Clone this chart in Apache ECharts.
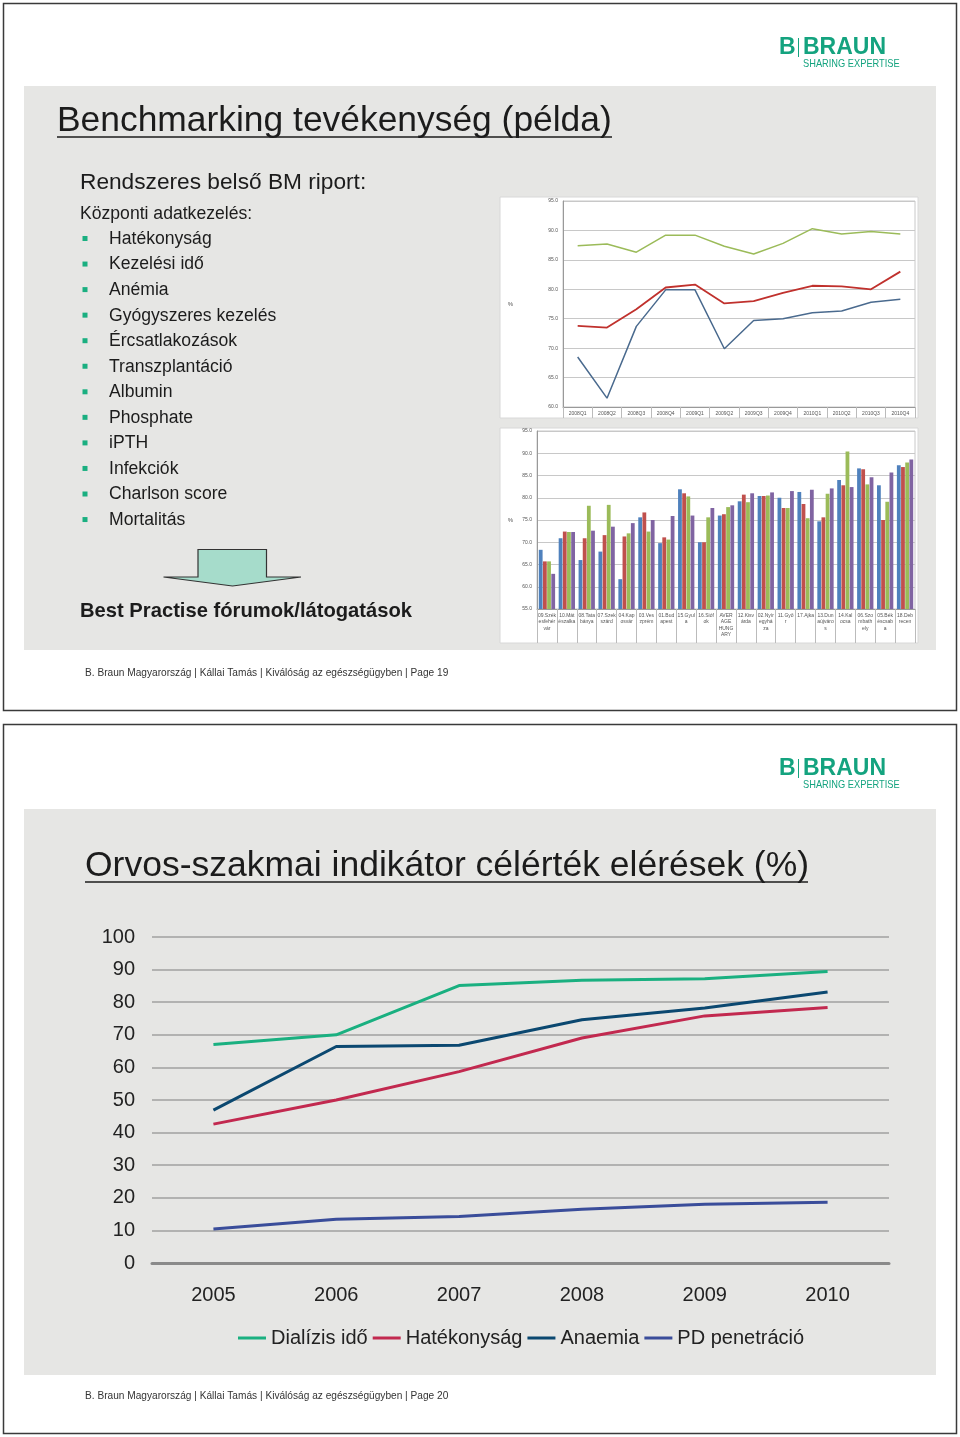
<!DOCTYPE html>
<html>
<head>
<meta charset="utf-8">
<script src="https://cdn.jsdelivr.net/npm/echarts@6/dist/echarts.min.js"></script>
<style>
html,body{margin:0;padding:0;background:#fff;}
#c{width:960px;height:1437px;}
</style>
</head>
<body>
<div id="c"></div>
<script>
// ---------- data ----------
const quarters = ['2008Q1','2008Q2','2008Q3','2008Q4','2009Q1','2009Q2','2009Q3','2009Q4','2010Q1','2010Q2','2010Q3','2010Q4'];
const qGreen = [87.4,87.7,86.3,89.2,89.2,87.3,86.0,87.8,90.3,89.4,89.8,89.4];
const qRed   = [73.8,73.5,76.6,80.3,80.8,77.6,78.0,79.4,80.6,80.5,80.0,83.0];
const qBlue  = [68.5,61.5,73.7,79.9,79.9,69.9,74.7,75.0,76.0,76.3,77.8,78.3];

const centers = ['09.Szék\nesfehér\nvár','10.Mát\nészalka','08.Tata\nbánya','07.Szek\nszárd','04.Kap\nosvár','03.Ves\nzprém','01.Bud\napest','15.Gyul\na','16.Sióf\nok','AVER\nAGE\nHUNG\nARY','12.Kisv\nárda','02.Nyír\negyhá\nza','11.Győ\nr','17.Ajka','13.Dun\naújváro\ns','14.Kal\nocsa','06.Szo\nmbath\nely','05.Bék\néscsab\na','18.Deb\nrecen'];
const barBlue   = [68.3,70.9,66.0,67.9,61.7,75.6,69.8,81.9,70.0,76.0,79.2,80.4,80.0,81.3,74.7,84.0,86.6,82.8,87.3];
const barRed    = [65.7,72.4,70.9,71.6,71.3,76.7,71.1,81.0,70.0,76.3,80.7,80.4,77.7,78.6,75.6,82.8,86.4,75.0,86.9];
const barGreen  = [65.7,72.3,78.2,78.4,72.0,72.4,70.6,80.3,75.6,77.9,79.0,80.5,77.7,75.4,80.9,90.4,83.0,79.1,87.9];
const barPurple = [62.9,72.3,72.6,73.5,74.3,75.0,75.9,76.0,77.7,78.3,81.0,81.2,81.5,81.8,82.1,82.4,84.6,85.7,88.6];

const years = ['2005','2006','2007','2008','2009','2010'];
const seriesNames = ['Dialízis idő','Hatékonyság','Anaemia','PD penetráció'];
const dializis    = [67.0,70.0,85.1,86.7,87.2,89.4];
const hatekonysag = [42.6,50.0,58.7,69.0,75.8,78.4];
const anaemia     = [46.9,66.4,66.8,74.6,78.2,83.1];
const pdPenetracio= [10.4,13.4,14.3,16.5,18.0,18.6];

const bulletItems = ['Hatékonyság','Kezelési idő','Anémia','Gyógyszeres kezelés','Ércsatlakozások','Transzplantáció','Albumin','Phosphate','iPTH','Infekciók','Charlson score','Mortalitás'];
const mainYTicks = [0,100,10];

// ---------- styling ----------
const FF = '"Liberation Sans", Arial, Helvetica, sans-serif';
const TXT = '#1c1c1c';
const GREEN = '#14a37f';

function txt(x, y, s, size, opts) {
  opts = opts || {};
  const el = {type:'text', x:x, y:y, z: 5, style:{text:s, fontSize:size, fontFamily:FF, fontWeight: opts.bold ? 'bold':'normal', fill: opts.fill || TXT, align: opts.align || 'left', verticalAlign:'middle'}};
  if (opts.scaleX) el.scaleX = opts.scaleX;
  return el;
}

const graphics = [];
// slide frames
graphics.push({type:'rect', z:-30, shape:{x:3.5,y:3.5,width:953,height:707}, style:{fill:'#fff', stroke:'#3a3a3a', lineWidth:1.5}});
graphics.push({type:'rect', z:-30, shape:{x:3.5,y:724.5,width:953,height:709}, style:{fill:'#fff', stroke:'#3a3a3a', lineWidth:1.5}});
// grey panels
graphics.push({type:'rect', z:-20, shape:{x:24,y:86,width:912,height:564}, style:{fill:'#e6e6e4'}});
graphics.push({type:'rect', z:-20, shape:{x:24,y:809,width:912,height:566}, style:{fill:'#e6e6e4'}});
// white chart images
graphics.push({type:'rect', z:-10, shape:{x:500,y:197,width:418,height:221}, style:{fill:'#fff', stroke:'#d8d8d8', lineWidth:1}});
graphics.push({type:'rect', z:-10, shape:{x:500,y:428,width:418,height:215}, style:{fill:'#fff', stroke:'#d8d8d8', lineWidth:1}});

// logos
[0, 721].forEach(function(dy){
  graphics.push(txt(779, 48+dy, 'B', 23, {bold:true, fill:GREEN}));
  graphics.push({type:'line', z:5, shape:{x1:798.5,y1:38+dy,x2:798.5,y2:57+dy}, style:{stroke:GREEN, lineWidth:1}});
  graphics.push(txt(803, 48+dy, 'BRAUN', 23, {bold:true, fill:GREEN}));
  graphics.push(txt(803, 64+dy, 'SHARING EXPERTISE', 11.6, {fill:GREEN, scaleX:0.8}));
});

// slide 1 texts
graphics.push(txt(57, 121.5, 'Benchmarking tevékenység (példa)', 35.4));
graphics.push({type:'line', z:5, shape:{x1:57,y1:137,x2:612,y2:137}, style:{stroke:TXT, lineWidth:1.5}});
graphics.push(txt(80, 182.5, 'Rendszeres belső BM riport:', 22.7));
graphics.push(txt(80, 214, 'Központi adatkezelés:', 17.6));
bulletItems.forEach(function(s, i){
  const y = 239 + i*25.55;
  graphics.push({type:'rect', z:5, shape:{x:82.5,y:y-3,width:5,height:5}, style:{fill:'#1aaf80'}});
  graphics.push(txt(109, y, s, 17.6));
});
// arrow
graphics.push({type:'polygon', z:5, shape:{points:[[198,549.5],[266.5,549.5],[266.5,577],[301,577],[232.5,586],[163.5,577],[198,577]]}, style:{fill:'#a6dccb', stroke:'#333', lineWidth:1.2}});
graphics.push(txt(80, 611, 'Best Practise fórumok/látogatások', 20.2, {bold:true}));
graphics.push(txt(85, 673.5, 'B. Braun Magyarország | Kállai Tamás | Kiválóság az egészségügyben | Page 19', 10.5, {fill:'#333', scaleX:0.965}));

// slide 2 texts
graphics.push(txt(85, 866.5, 'Orvos-szakmai indikátor célérték elérések (%)', 35.5));
graphics.push({type:'line', z:5, shape:{x1:85,y1:882,x2:808,y2:882}, style:{stroke:TXT, lineWidth:1.5}});
graphics.push(txt(85, 1396.5, 'B. Braun Magyarország | Kállai Tamás | Kiválóság az egészségügyben | Page 20', 10.5, {fill:'#333', scaleX:0.965}));

const smallLabel = {fontSize:5, color:'#555', fontFamily:FF};

const option = {
  animation:false,
  backgroundColor:'#fff',
  graphic: graphics,
  grid:[
    {left:563, top:201, width:352, height:206, show:true, borderColor:'#c8c8c8', borderWidth:1},
    {left:537, top:431, width:378, height:178, show:true, borderColor:'#c8c8c8', borderWidth:1},
    {left:152, top:937, width:737, height:326}
  ],
  xAxis:[
    {type:'category', gridIndex:0, data:quarters, boundaryGap:true,
     axisLine:{lineStyle:{color:'#999', width:1}},
     axisTick:{show:true, interval:0, length:11, lineStyle:{color:'#bbb'}},
     axisLabel:Object.assign({interval:0, margin:4}, smallLabel)},
    {type:'category', gridIndex:1, data:centers, boundaryGap:true,
     axisLine:{lineStyle:{color:'#999', width:1}},
     axisTick:{show:true, interval:0, length:34, lineStyle:{color:'#bbb'}},
     axisLabel:Object.assign({interval:0, margin:3, lineHeight:6.5}, smallLabel)},
    {type:'category', gridIndex:2, data:years, boundaryGap:true,
     axisLine:{show:true, lineStyle:{color:'#8a8a8a', width:3}},
     axisTick:{show:false},
     axisLabel:{fontSize:20, color:'#222', fontFamily:FF, margin:22}}
  ],
  yAxis:[
    {type:'value', gridIndex:0, min:60, max:95, interval:5,
     name:'%', nameLocation:'middle', nameGap:50, nameRotate:0, nameTextStyle:{fontSize:6, color:'#555'},
     axisLine:{show:true, lineStyle:{color:'#999'}}, axisTick:{show:false},
     splitLine:{lineStyle:{color:'#c8c8c8', width:1}},
     axisLabel:Object.assign({margin:5, formatter:function(v){return v.toFixed(1);}}, smallLabel)},
    {type:'value', gridIndex:1, min:55, max:95, interval:5,
     name:'%', nameLocation:'middle', nameGap:24, nameRotate:0, nameTextStyle:{fontSize:6, color:'#555'},
     axisLine:{show:true, lineStyle:{color:'#999'}}, axisTick:{show:false},
     splitLine:{lineStyle:{color:'#c8c8c8', width:1}},
     axisLabel:Object.assign({margin:5, formatter:function(v){return v.toFixed(1);}}, smallLabel)},
    {type:'value', gridIndex:2, min:mainYTicks[0], max:mainYTicks[1], interval:mainYTicks[2],
     axisLine:{show:false}, axisTick:{show:false},
     splitLine:{lineStyle:{color:'#a0a0a0', width:1.5}},
     axisLabel:{fontSize:20, color:'#222', fontFamily:FF, margin:17}}
  ],
  legend:{
    data:seriesNames, left:238, top:1328, padding:0, icon:'rect', itemWidth:28, itemHeight:3, itemGap:5,
    textStyle:{fontSize:20, color:'#222', fontFamily:FF}
  },
  series:[
    {type:'line', name:'q-green', xAxisIndex:0, yAxisIndex:0, data:qGreen, symbol:'none', lineStyle:{color:'#9bbb59', width:1.5}, itemStyle:{color:'#9bbb59'}},
    {type:'line', name:'q-red', xAxisIndex:0, yAxisIndex:0, data:qRed, symbol:'none', lineStyle:{color:'#c0312d', width:1.8}, itemStyle:{color:'#c0312d'}},
    {type:'line', name:'q-blue', xAxisIndex:0, yAxisIndex:0, data:qBlue, symbol:'none', lineStyle:{color:'#4a6a8e', width:1.5}, itemStyle:{color:'#4a6a8e'}},

    {type:'bar', name:'b1', xAxisIndex:1, yAxisIndex:1, data:barBlue, itemStyle:{color:'#4f81bd'}, barGap:'10%', barCategoryGap:'18%'},
    {type:'bar', name:'b2', xAxisIndex:1, yAxisIndex:1, data:barRed, itemStyle:{color:'#c0504d'}},
    {type:'bar', name:'b3', xAxisIndex:1, yAxisIndex:1, data:barGreen, itemStyle:{color:'#9bbb59'}},
    {type:'bar', name:'b4', xAxisIndex:1, yAxisIndex:1, data:barPurple, itemStyle:{color:'#8064a2'}},

    {type:'line', name:seriesNames[0], xAxisIndex:2, yAxisIndex:2, data:dializis, symbol:'none', lineStyle:{color:'#1ab080', width:3}, itemStyle:{color:'#1ab080'}},
    {type:'line', name:seriesNames[1], xAxisIndex:2, yAxisIndex:2, data:hatekonysag, symbol:'none', lineStyle:{color:'#c2294f', width:3}, itemStyle:{color:'#c2294f'}},
    {type:'line', name:seriesNames[2], xAxisIndex:2, yAxisIndex:2, data:anaemia, symbol:'none', lineStyle:{color:'#0b4870', width:3}, itemStyle:{color:'#0b4870'}},
    {type:'line', name:seriesNames[3], xAxisIndex:2, yAxisIndex:2, data:pdPenetracio, symbol:'none', lineStyle:{color:'#3a4d9a', width:3}, itemStyle:{color:'#3a4d9a'}}
  ]
};

const chart = echarts.init(document.getElementById('c'), null, {renderer:'canvas', width:960, height:1437});
chart.setOption(option);
</script>
</body>
</html>
